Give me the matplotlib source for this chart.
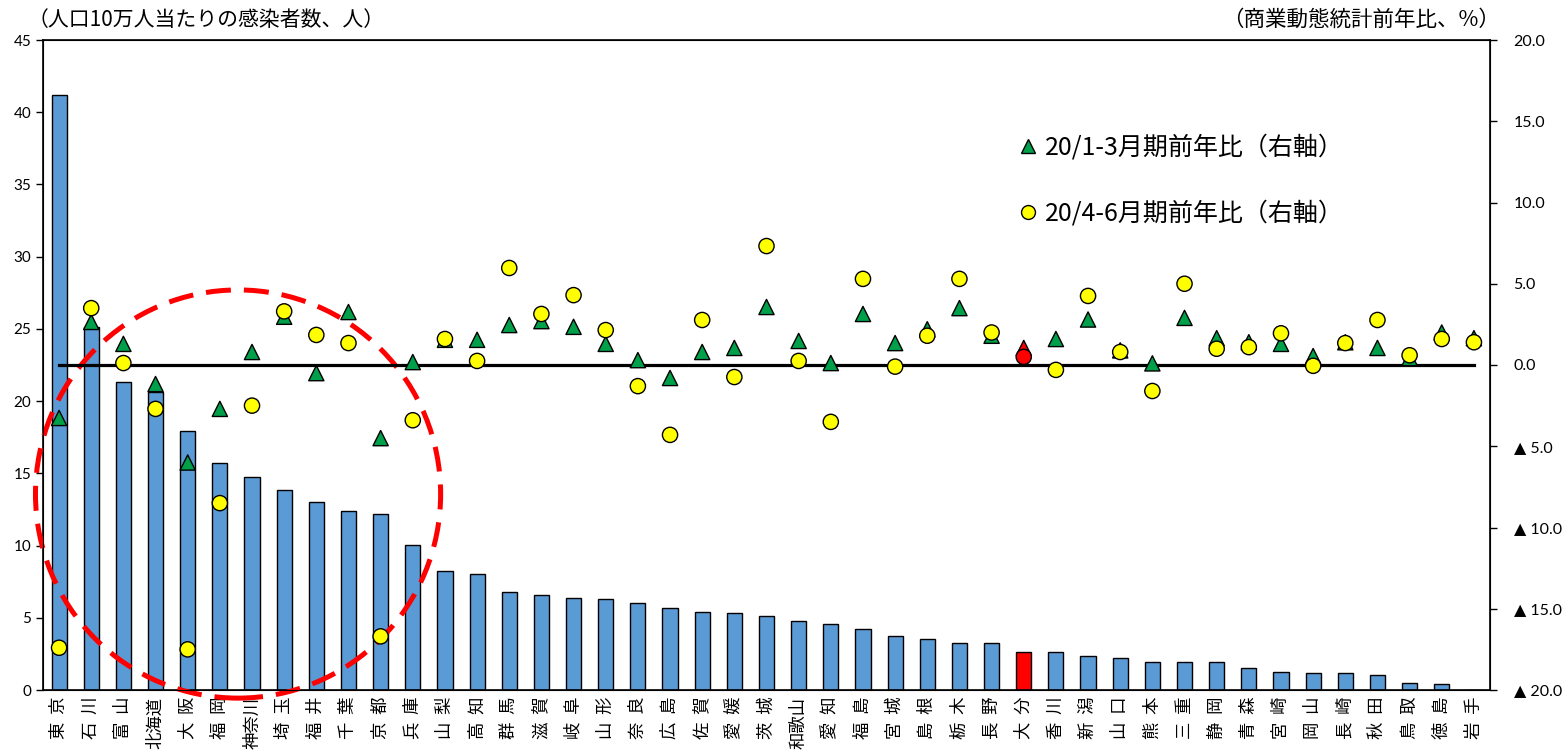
import matplotlib
matplotlib.use("Agg")
import matplotlib.pyplot as plt
from matplotlib.patches import Ellipse
from matplotlib.lines import Line2D
from matplotlib.ticker import FuncFormatter

plt.rcParams['font.family'] = ['Noto Sans CJK JP', 'DejaVu Sans']

prefs = ['東京', '石川', '富山', '北海道', '大阪', '福岡', '神奈川', '埼玉', '福井', '千葉',
         '京都', '兵庫', '山梨', '高知', '群馬', '滋賀', '岐阜', '山形', '奈良', '広島',
         '佐賀', '愛媛', '茨城', '和歌山', '愛知', '福島', '宮城', '島根', '栃木', '長野',
         '大分', '香川', '新潟', '山口', '熊本', '三重', '静岡', '青森', '宮崎', '岡山',
         '長崎', '秋田', '鳥取', '徳島', '岩手']

# 人口10万人当たりの感染者数（左軸）
cases = [41.2, 25.1, 21.3, 20.6, 17.9, 15.7, 14.75, 13.85, 13.0, 12.4,
         12.2, 10.05, 8.24, 8.03, 6.8, 6.6, 6.4, 6.3, 6.0, 5.7,
         5.4, 5.3, 5.1, 4.8, 4.6, 4.2, 3.75, 3.55, 3.25, 3.25,
         2.65, 2.65, 2.35, 2.25, 1.95, 1.95, 1.95, 1.55, 1.25, 1.15,
         1.15, 1.05, 0.5, 0.4, 0.0]

# 商業動態統計 前年比（右軸）
q1 = [-3.26, 2.65, 1.3, -1.17, -6.0, -2.7, 0.8, 2.97, -0.5, 3.26,
      -4.5, 0.18, 1.55, 1.55, 2.46, 2.7, 2.35, 1.3, 0.3, -0.8,
      0.8, 1.05, 3.57, 1.48, 0.12, 3.14, 1.35, 2.2, 3.5, 1.8,
      1.05, 1.6, 2.8, 0.9, 0.1, 2.9, 1.65, 1.4, 1.3, 0.55,
      1.4, 1.05, 0.43, 2.0, 1.65]
q2 = [-17.4, 3.5, 0.12, -2.7, -17.5, -8.5, -2.5, 3.3, 1.85, 1.35,
      -16.7, -3.4, 1.6, 0.25, 5.97, 3.14, 4.3, 2.15, -1.3, -4.3,
      2.77, -0.74, 7.32, 0.25, -3.5, 5.3, -0.1, 1.8, 5.3, 2.0,
      0.5, -0.3, 4.25, 0.8, -1.6, 5.0, 1.0, 1.1, 1.95, -0.05,
      1.35, 2.77, 0.6, 1.6, 1.4]

highlight = '大分'

x = list(range(len(prefs)))
bar_colors = ['#FF0000' if p == highlight else '#5B9BD5' for p in prefs]
tri_colors = ['#FF0000' if p == highlight else '#00A04A' for p in prefs]
dot_colors = ['#FF0000' if p == highlight else '#FFFF00' for p in prefs]


def spaced(name):
    # 2文字の県名は字間を空けて縦に並べる
    return '  '.join(name) if len(name) == 2 else name


fig = plt.figure(figsize=(15.65, 7.55), dpi=100)
ax = fig.add_axes([43 / 1565, 65 / 755, 1447 / 1565, 650 / 755])

ax.bar(x, cases, width=0.47, color=bar_colors, edgecolor='black', linewidth=1, zorder=2)
ax.set_xlim(-0.5, len(prefs) - 0.5)
ax.set_ylim(0, 45)
ax.set_yticks(range(0, 46, 5))
ax.set_xticks(x)
ax.set_xticklabels([spaced(p) for p in prefs], rotation=90, fontsize=12.5,
                   va='top', ha='center')
ax.tick_params(axis='x', length=0, pad=5)
ax.tick_params(axis='y', direction='out', length=5, width=1, labelsize=11)
for lab in ax.get_yticklabels():
    lab.set_family(['Lato', 'DejaVu Sans'])
for s in ax.spines.values():
    s.set_linewidth(1.2)

ax2 = ax.twinx()
ax2.set_ylim(-20, 20)
ax2.set_yticks(range(-20, 21, 5))
ax2.yaxis.set_major_formatter(FuncFormatter(
    lambda v, pos: f'▲ {abs(v):.1f}' if v < 0 else f'{v:.1f}'))
ax2.tick_params(axis='y', direction='out', length=5, width=1, labelsize=11.5, pad=12)
for lab in ax2.get_yticklabels():
    lab.set_family(['Lato', 'DejaVu Sans'])

# 0%の基準線
ax2.plot([x[0], x[-1]], [0, 0], color='black', lw=2.3, zorder=2)

ax2.scatter(x, q1, marker='^', s=120, c=tri_colors, edgecolors='black', linewidths=1, zorder=3)
ax2.scatter(x, q2, marker='o', s=120, c=dot_colors, edgecolors='black', linewidths=1, zorder=4)

# 感染者数上位の都道府県を囲む破線
ring = Ellipse((0.1348, 0.3015), 0.28, 0.628, transform=ax2.transAxes, fill=False,
               edgecolor='#FF0000', lw=3.6, ls=(0, (5, 2.6)), clip_on=False, zorder=1)
ax2.add_patch(ring)

handles = [
    Line2D([], [], marker='^', ls='none', ms=10, mfc='#00A04A', mec='black', mew=1),
    Line2D([], [], marker='o', ls='none', ms=10, mfc='#FFFF00', mec='black', mew=1),
]
ax2.legend(handles, ['20/1-3月期前年比（右軸）', '20/4-6月期前年比（右軸）'],
           loc='upper left', bbox_to_anchor=(995 / 1565, 1 - 112 / 755),
           bbox_transform=fig.transFigure, frameon=False, fontsize=18,
           handlelength=0.8, handletextpad=0.3, labelspacing=1.6)

fig.text(28 / 1565, 1 - 20 / 755, '（人口10万人当たりの感染者数、人）', fontsize=15,
         ha='left', va='center')
fig.text(1500 / 1565, 1 - 20 / 755, '（商業動態統計前年比、%）', fontsize=15.5,
         ha='right', va='center')

fig.savefig('out.png', dpi=100)
